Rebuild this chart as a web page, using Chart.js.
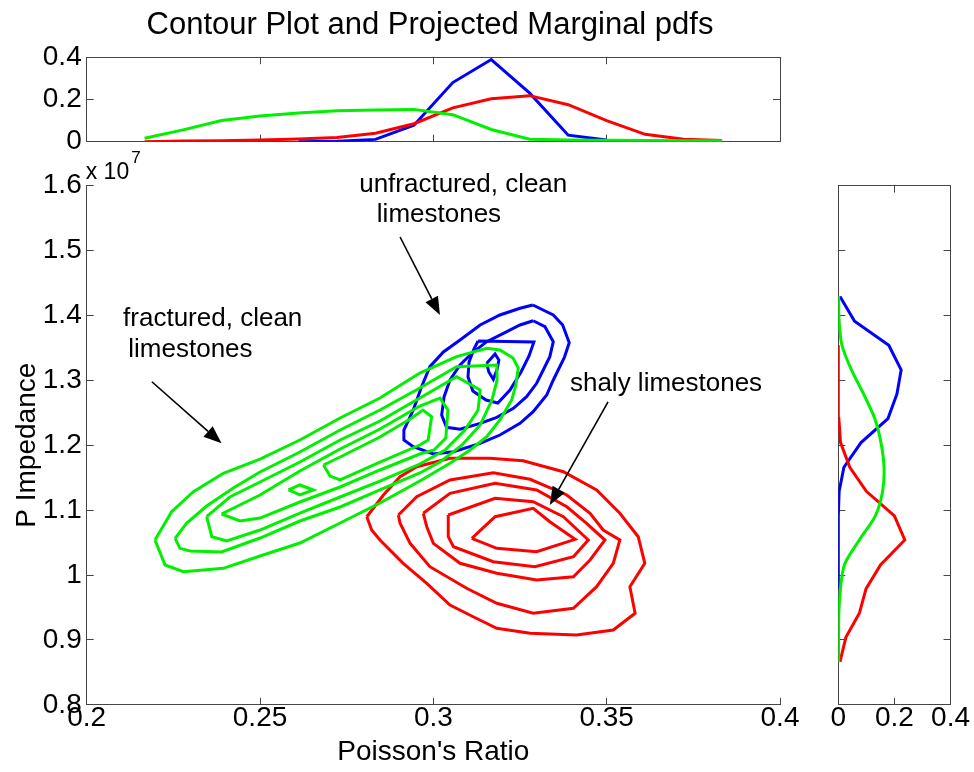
<!DOCTYPE html>
<html>
<head>
<meta charset="utf-8">
<title>Contour Plot and Projected Marginal pdfs</title>
<script src="https://cdn.jsdelivr.net/npm/chart.js@4.4.1/dist/chart.umd.min.js"></script>
<style>
  html, body { margin: 0; padding: 0; background: #fff; }
  #wrap { position: relative; width: 974px; height: 772px; }
  #wrap canvas { position: absolute; left: 0; top: 0; }
</style>
</head>
<body>
<div id="wrap">
  <canvas id="mainChart" width="974" height="772"></canvas>
  <canvas id="topChart" width="974" height="772"></canvas>
  <canvas id="sideChart" width="974" height="772"></canvas>
</div>
<script>
// contour rings, [Poisson's ratio, P impedance (x 10^7)], outer ring first
const blueContours = [
  [[0.3287,1.416],[0.3346,1.4006],[0.3373,1.3852],[0.3392,1.358],[0.3378,1.3354],[0.3346,1.3005],[0.3327,1.2773],[0.3288,1.2516],[0.325,1.2337],[0.3192,1.2157],[0.3135,1.2029],[0.3058,1.19],[0.3,1.1864],[0.2942,1.1977],[0.2915,1.208],[0.2915,1.2234],[0.2942,1.2542],[0.2966,1.2901],[0.299,1.321],[0.3029,1.3437],[0.3077,1.3621],[0.3135,1.3852],[0.3192,1.4006],[0.325,1.411]],
  [[0.3288,1.3918],[0.3322,1.3826],[0.3346,1.3595],[0.3336,1.3364],[0.3317,1.3159],[0.3298,1.2954],[0.3269,1.2747],[0.3231,1.2568],[0.3183,1.243],[0.3135,1.2337],[0.3077,1.2245],[0.3038,1.2276],[0.3024,1.2465],[0.3031,1.2747],[0.3048,1.3005],[0.3077,1.3236],[0.3111,1.3416],[0.3154,1.3595],[0.3202,1.3724],[0.325,1.3852]],
  [[0.3129,1.3606],[0.329,1.359],[0.3276,1.3374],[0.3253,1.3128],[0.3221,1.285],[0.3186,1.265],[0.3152,1.2696],[0.3114,1.2835],[0.31,1.3051],[0.3103,1.3282],[0.3117,1.3482]],
  [[0.3154,1.3262],[0.3178,1.3405],[0.3189,1.3313],[0.3184,1.317],[0.3173,1.3015],[0.316,1.3128]]
];
const greenContours = [
  [[0.2197,1.0539],[0.2245,1.0975],[0.2308,1.1283],[0.2394,1.1567],[0.25,1.1787],[0.2615,1.208],[0.2731,1.2419],[0.2846,1.2727],[0.2961,1.3112],[0.3067,1.3364],[0.3154,1.3493],[0.3192,1.3467],[0.323,1.3344],[0.3245,1.3189],[0.3238,1.2928],[0.3226,1.2696],[0.3192,1.2388],[0.3154,1.2131],[0.3106,1.1926],[0.3048,1.1721],[0.2961,1.1448],[0.2846,1.1109],[0.2731,1.0801],[0.2615,1.0493],[0.25,1.0293],[0.2394,1.0103],[0.2279,1.0051],[0.2226,1.0154]],
  [[0.2255,1.0565],[0.2288,1.0797],[0.2346,1.1063],[0.2423,1.134],[0.25,1.1587],[0.2615,1.1895],[0.2731,1.2234],[0.2846,1.2542],[0.2961,1.2881],[0.3067,1.3209],[0.3183,1.3236],[0.3184,1.3005],[0.3169,1.2696],[0.3135,1.2311],[0.3083,1.2003],[0.3019,1.1741],[0.2961,1.1572],[0.2846,1.131],[0.2731,1.1048],[0.2615,1.0832],[0.25,1.057],[0.2389,1.0354],[0.2298,1.037],[0.2269,1.0411]],
  [[0.2346,1.0898],[0.2413,1.1202],[0.25,1.1433],[0.2615,1.1741],[0.2731,1.208],[0.2846,1.2373],[0.2961,1.2727],[0.3067,1.3055],[0.3135,1.285],[0.3129,1.2542],[0.3091,1.2234],[0.3034,1.1926],[0.2961,1.171],[0.2846,1.1448],[0.2731,1.1202],[0.2615,1.0955],[0.25,1.0693],[0.2404,1.0524],[0.2361,1.059]],
  [[0.2389,1.094],[0.25,1.1233],[0.2615,1.1602],[0.2731,1.1941],[0.2846,1.225],[0.2961,1.2604],[0.3019,1.2727],[0.3042,1.2542],[0.3036,1.2111],[0.3002,1.1926],[0.2961,1.1864],[0.2846,1.1618],[0.2731,1.1356],[0.2615,1.1125],[0.25,1.0878],[0.2442,1.0832]],
  [[0.2683,1.1695],[0.2731,1.1818],[0.2846,1.2126],[0.2933,1.2404],[0.297,1.2542],[0.2995,1.2439],[0.2985,1.208],[0.2961,1.2003],[0.2846,1.1741],[0.2731,1.1464],[0.2702,1.1525]],
  [[0.2582,1.131],[0.2615,1.1387],[0.2654,1.131],[0.2615,1.1233]]
];
const redContours = [
  [[0.2808,1.0898],[0.2856,1.1233],[0.2904,1.1515],[0.2952,1.1669],[0.3048,1.1798],[0.3163,1.1798],[0.3259,1.1761],[0.3375,1.1592],[0.3471,1.131],[0.3538,1.0951],[0.3591,1.059],[0.361,1.018],[0.3567,0.982],[0.3582,0.941],[0.3519,0.9153],[0.3413,0.9076],[0.3279,0.9102],[0.3183,0.9179],[0.3115,0.9357],[0.3048,0.9538],[0.2981,0.9872],[0.2913,1.018],[0.2846,1.0539],[0.2822,1.0693]],
  [[0.2899,1.0924],[0.2952,1.1206],[0.3048,1.1464],[0.3173,1.1576],[0.3279,1.1475],[0.3385,1.1233],[0.3452,1.0951],[0.349,1.0693],[0.3538,1.0539],[0.3519,1.018],[0.3471,0.982],[0.3404,0.9487],[0.3288,0.941],[0.3183,0.9564],[0.3096,0.9795],[0.299,1.0128],[0.2933,1.0488],[0.2904,1.0797]],
  [[0.2971,1.0951],[0.3048,1.1259],[0.3178,1.1413],[0.3298,1.131],[0.3385,1.1052],[0.3442,1.0797],[0.3495,1.0539],[0.3452,1.0231],[0.3404,0.9974],[0.3298,0.9923],[0.3183,1.0026],[0.3077,1.018],[0.3,1.0488],[0.2981,1.0744]],
  [[0.3043,1.0924],[0.3178,1.1182],[0.3288,1.1129],[0.3375,1.0898],[0.3447,1.0539],[0.3404,1.0282],[0.3293,1.0128],[0.3173,1.0205],[0.3058,1.0436],[0.3043,1.059]],
  [[0.3111,1.0565],[0.3178,1.0898],[0.3288,1.1028],[0.3336,1.0821],[0.3409,1.055],[0.3298,1.0359],[0.3183,1.0411]]
];

// marginal pdf of Poisson's ratio (top panel)
const topX     = [0.2167,0.2278,0.2389,0.25,0.2611,0.2722,0.2833,0.2944,0.3056,0.3167,0.3278,0.3389,0.35,0.3611,0.3722,0.3833];
const topBlue  = [null,null,null,null,0,0.002,0.011,0.078,0.28,0.389,0.23,0.031,0.008,null,null,null];
const topRed   = [0,0.003,0.005,0.008,0.013,0.02,0.04,0.085,0.16,0.203,0.218,0.175,0.1,0.035,0.012,0.006];
const topGreen = [0.016,0.056,0.1,0.122,0.136,0.146,0.15,0.153,0.128,0.058,0.012,0.008,0.007,0.006,0.005,0.005];

// marginal pdf of P impedance (right panel)
const sideY     = [0.866,0.904,0.941,0.979,1.016,1.054,1.091,1.129,1.166,1.204,1.241,1.279,1.316,1.354,1.391,1.429];
const sideBlue  = [null,null,null,0,0,0,0,0.003,0.02,0.081,0.177,0.209,0.224,0.18,0.058,0.006];
const sideRed   = [0.006,0.027,0.075,0.099,0.151,0.237,0.2,0.1,0.041,0.008,0.002,0,0,0,null,null];
const sideGreen = [0.001,0.001,0.002,0.008,0.022,0.075,0.132,0.158,0.163,0.152,0.13,0.09,0.047,0.013,0.003,0.001];

const mainXTicks = [0.2,0.25,0.3,0.35,0.4];
const mainYTicks = [0.8,0.9,1,1.1,1.2,1.3,1.4,1.5,1.6];
const topYTicks  = [0,0.2,0.4];
const sideXTicks = [0,0.2,0.4];

// annotation anchors in data units
const noteTexts = [
  { text: 'unfractured, clean', x: 0.2786, y: 1.5906 },
  { text: 'limestones', x: 0.2837, y: 1.5444 },
  { text: 'fractured, clean', x: 0.2105, y: 1.3837 },
  { text: 'limestones', x: 0.212, y: 1.3364 },
  { text: 'shaly limestones', x: 0.3394, y: 1.284 }
];
const noteArrows = [
  { from: [0.2904,1.5208], to: [0.3019,1.4006] },
  { from: [0.2188,1.2978], to: [0.2389,1.2029] },
  { from: [0.3504,1.2666], to: [0.3336,1.1079] }
];

const FONT = "'Liberation Sans', Arial, Helvetica, sans-serif";
const AXIS = '#454545';
const BLUE = '#0000ff', GREEN = '#00f000', RED = '#ff0000';

function tickFmt(v) {
  return String(parseFloat(Number(v).toFixed(3)));
}

// one axis with MATLAB style inward ticks and a fixed box size
function axis(o) {
  const cfg = {
    type: 'linear',
    axis: o.axis,
    position: o.position,
    min: o.min,
    max: o.max,
    afterBuildTicks: s => { s.ticks = o.ticks.map(v => ({ value: v })); },
    afterFit: s => { if (o.axis === 'x') s.height = o.size; else s.width = o.size; },
    ticks: {
      display: !!o.labels,
      autoSkip: false,
      maxRotation: 0,
      color: '#000',
      font: { family: FONT, size: 28 },
      padding: o.axis === 'x' ? 4 : 12,
      callback: tickFmt
    },
    grid: { drawOnChartArea: false, drawTicks: true, tickLength: -7, color: AXIS, lineWidth: 1 },
    border: { display: true, color: AXIS, width: 1 }
  };
  if (o.title) {
    cfg.title = { display: true, text: o.title, color: '#000', font: { family: FONT, size: 28 }, padding: o.titlePad };
  }
  return cfg;
}

function ring(points) {
  const pts = points.map(([x, y]) => ({ x, y }));
  pts.push(pts[0]);
  return pts;
}

function lineSet(data, color, extra) {
  return Object.assign({ data, borderColor: color, borderWidth: 3, pointRadius: 0, showLine: true, fill: false, tension: 0 }, extra || {});
}

function drawArrow(ctx, x1, y1, x2, y2) {
  const ang = Math.atan2(y2 - y1, x2 - x1);
  const len = 18, half = 7;
  const bx = x2 - len * Math.cos(ang), by = y2 - len * Math.sin(ang);
  ctx.lineWidth = 1.6;
  ctx.beginPath();
  ctx.moveTo(x1, y1);
  ctx.lineTo(bx, by);
  ctx.stroke();
  ctx.beginPath();
  ctx.moveTo(x2, y2);
  ctx.lineTo(bx - half * Math.sin(ang), by + half * Math.cos(ang));
  ctx.lineTo(bx + half * Math.sin(ang), by - half * Math.cos(ang));
  ctx.closePath();
  ctx.fill();
}

const notesPlugin = {
  id: 'notes',
  afterDraw(chart) {
    const { ctx, chartArea, scales: { x, y } } = chart;
    ctx.save();
    ctx.fillStyle = '#000';
    ctx.strokeStyle = '#000';
    ctx.textAlign = 'left';
    ctx.textBaseline = 'alphabetic';
    ctx.font = '26px ' + FONT;
    noteTexts.forEach(n => ctx.fillText(n.text, x.getPixelForValue(n.x), y.getPixelForValue(n.y)));
    noteArrows.forEach(a => drawArrow(ctx,
      x.getPixelForValue(a.from[0]), y.getPixelForValue(a.from[1]),
      x.getPixelForValue(a.to[0]), y.getPixelForValue(a.to[1])));
    // exponent of the impedance axis
    ctx.font = '23px ' + FONT;
    ctx.fillText('x 10', chartArea.left - 1, chartArea.top - 7);
    const w = ctx.measureText('x 10').width;
    ctx.font = '17px ' + FONT;
    ctx.fillText('7', chartArea.left + 1 + w, chartArea.top - 23);
    ctx.restore();
  }
};

const common = {
  responsive: false,
  animation: false,
  events: [],
  plugins: { legend: { display: false }, tooltip: { enabled: false } }
};

// main contour plot
new Chart(document.getElementById('mainChart'), {
  type: 'scatter',
  data: {
    datasets: [
      ...greenContours.map(r => lineSet(ring(r), GREEN)),
      ...redContours.map(r => lineSet(ring(r), RED)),
      ...blueContours.map(r => lineSet(ring(r), BLUE))
    ]
  },
  options: Object.assign({}, common, {
    layout: { padding: { top: 185.6, right: 194, left: 0, bottom: 0 } },
    scales: {
      x: axis({ axis: 'x', position: 'bottom', min: 0.2, max: 0.4, ticks: mainXTicks, size: 67.2, labels: true,
                title: "Poisson's Ratio", titlePad: { top: 0, bottom: 3 } }),
      y: axis({ axis: 'y', position: 'left', min: 0.8, max: 1.6, ticks: mainYTicks, size: 86.7, labels: true,
                title: 'P Impedance', titlePad: { top: 10, bottom: 0 } })
    }
  }),
  plugins: [notesPlugin]
});

function series(xs, ys, swap) {
  const out = [];
  xs.forEach((v, i) => {
    if (ys[i] == null) return;
    out.push(swap ? { x: ys[i], y: v } : { x: v, y: ys[i] });
  });
  return out;
}

// top marginal
new Chart(document.getElementById('topChart'), {
  type: 'scatter',
  data: {
    datasets: [
      lineSet(series(topX, topGreen), GREEN),
      lineSet(series(topX, topRed), RED),
      lineSet(series(topX, topBlue), BLUE)
    ]
  },
  options: Object.assign({}, common, {
    layout: { padding: { top: 0, right: 114, left: 0, bottom: 0 } },
    plugins: {
      legend: { display: false },
      tooltip: { enabled: false },
      title: { display: true, text: 'Contour Plot and Projected Marginal pdfs', color: '#000',
               font: { family: FONT, size: 31, weight: 'normal' }, padding: { top: 7, bottom: 13 } }
    },
    scales: {
      x: axis({ axis: 'x', position: 'bottom', min: 0.2, max: 0.4, ticks: mainXTicks, size: 630.3 }),
      x2: axis({ axis: 'x', position: 'top', min: 0.2, max: 0.4, ticks: mainXTicks, size: 0 }),
      y: axis({ axis: 'y', position: 'left', min: 0, max: 0.4, ticks: topYTicks, size: 86.7, labels: true }),
      y2: axis({ axis: 'y', position: 'right', min: 0, max: 0.4, ticks: topYTicks, size: 80 })
    }
  })
});

// right marginal
new Chart(document.getElementById('sideChart'), {
  type: 'scatter',
  data: {
    datasets: [
      lineSet(series(sideY, sideGreen, true), GREEN, { tension: 0.3 }),
      lineSet(series(sideY, sideRed, true), RED),
      lineSet(series(sideY, sideBlue, true), BLUE)
    ]
  },
  options: Object.assign({}, common, {
    layout: { padding: 0 },
    scales: {
      x: axis({ axis: 'x', position: 'bottom', min: 0, max: 0.4, ticks: sideXTicks, size: 67.2, labels: true }),
      x2: axis({ axis: 'x', position: 'top', min: 0, max: 0.4, ticks: sideXTicks, size: 185.6 }),
      y: axis({ axis: 'y', position: 'left', min: 0.8, max: 1.6, ticks: mainYTicks, size: 838.3 }),
      y2: axis({ axis: 'y', position: 'right', min: 0.8, max: 1.6, ticks: mainYTicks, size: 20.7 })
    }
  })
});
</script>
</body>
</html>
